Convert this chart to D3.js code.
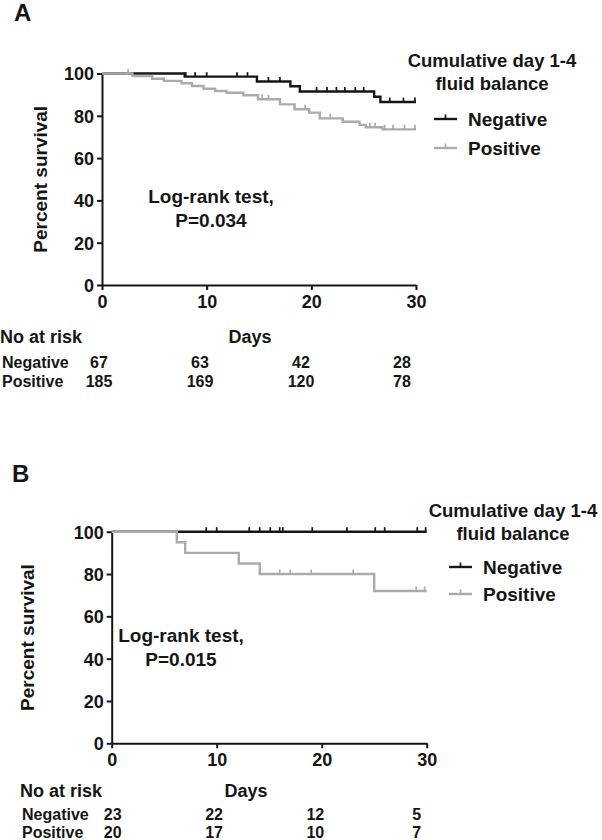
<!DOCTYPE html>
<html>
<head>
<meta charset="utf-8">
<script src="https://cdn.jsdelivr.net/npm/d3@7"></script>
<style>
    body { margin: 0; background: #fff; }
    text { font-family: "Liberation Sans", Arial, sans-serif; font-weight: bold; fill: #151515; }
    .axis path, .axis line { stroke: #151515; stroke-width: 2px; }
</style>
</head>
<body>
<div id="chart"></div>
<script>
// data
var dayTicks = [0, 10, 20, 30];
var survivalTicks = [0, 20, 40, 60, 80, 100];
var groups = ["Negative", "Positive"];

// panel A steps as [day, percent]
var negA = [[0, 100], [7.9, 98.5], [14.8, 96.2], [18.0, 94.0], [18.9, 91.5], [26.0, 89.0], [26.6, 86.5]];
var negACensor = [8.0, 8.9, 10.0, 12.9, 13.9, 15.9, 17.0, 20.5, 21.5, 22.4, 23.2, 24.2, 25.0, 27.5, 28.8, 29.9];
var posA = [[0, 100], [2.9, 98.8], [4.8, 97.5], [5.9, 96.5], [7.6, 95.4], [8.6, 94.1], [9.7, 92.8], [10.8, 91.7],
    [11.9, 90.9], [13.5, 89.7], [14.9, 87.8], [17.0, 85.4], [18.4, 83.1], [19.8, 81.5], [20.8, 78.8],
    [23.0, 77.2], [24.6, 75.7], [25.2, 74.6], [26.8, 73.6]];
var posACensor = [2.5, 15.3, 15.9, 18.4, 19.4, 21.8, 25.6, 26.1, 27.0, 27.8, 28.9, 29.9];
var riskNegA = [67, 63, 42, 28];
var riskPosA = [185, 169, 120, 78];

// panel B steps
var negB = [[0, 100]];
var negBCensor = [9.0, 10.0, 13.1, 14.1, 15.1, 16.0, 16.3, 19.1, 22.4, 25.1, 26.0, 29.1, 29.9];
var posB = [[0, 100], [6.2, 95], [7.0, 90], [12.1, 85], [14.1, 80], [25.0, 72]];
var posBCensor = [16.0, 17.0, 19.0, 23.0, 29.0, 29.8];
var riskNegB = [23, 22, 12, 5];
var riskPosB = [20, 17, 10, 7];

var colors = {Negative: "#151515", Positive: "#ababab"};

var svg = d3.select("#chart").append("svg")
    .attr("width", 602)
    .attr("height", 840);

/**
 * value of a step curve at day t
 */
function levelAt(steps, t) {
    var s = steps[0][1];
    steps.forEach(function (d) {
        if (d[0] <= t) s = d[1];
    });
    return s;
}

/**
 * Draws one Kaplan-Meier panel
 */
function drawPanel(p) {
    var x = d3.scaleLinear().domain([0, 30]).range([p.left, p.right]);
    var y = d3.scaleLinear().domain([0, 100]).range([p.bottom, p.top]);
    var g = svg.append("g");

    g.append("text").attr("x", p.letterX).attr("y", p.letterY)
        .style("font-size", "24px").text(p.letter);

    //axes
    g.append("g").attr("class", "axis")
        .attr("transform", "translate(" + p.left + ",0)")
        .call(d3.axisLeft(y).tickValues(survivalTicks).tickSize(5).tickSizeOuter(0).tickPadding(3))
        .selectAll("text").style("font-size", "18px").attr("dy", "0.36em");
    g.append("g").attr("class", "axis")
        .attr("transform", "translate(0," + p.bottom + ")")
        .call(d3.axisBottom(x).tickValues(dayTicks).tickSize(5).tickSizeOuter(0).tickPadding(4))
        .selectAll("text").style("font-size", "18px").attr("dy", "0.78em");
    g.selectAll(".axis text").style("fill", "#151515");

    g.append("text")
        .attr("transform", "translate(" + p.yLabelX + "," + ((p.top + p.bottom) / 2) + ") rotate(-90)")
        .attr("text-anchor", "middle")
        .style("font-size", "19px")
        .text("Percent survival");

    //curves, black first so grey sits on top
    var line = d3.line().curve(d3.curveStepAfter)
        .x(function (d) { return x(d[0]); })
        .y(function (d) { return y(d[1]); });

    [["Negative", p.neg, p.negCensor], ["Positive", p.pos, p.posCensor]].forEach(function (c) {
        var pts = c[1].concat([[30, c[1][c[1].length - 1][1]]]);
        g.append("path").datum(pts)
            .attr("d", line)
            .attr("fill", "none")
            .attr("stroke", colors[c[0]])
            .attr("stroke-width", 2.4);
        g.selectAll(null).data(c[2]).enter().append("line")
            .attr("x1", function (d) { return x(d); })
            .attr("x2", function (d) { return x(d); })
            .attr("y1", function (d) { return y(levelAt(c[1], d)); })
            .attr("y2", function (d) { return y(levelAt(c[1], d)) - 4.5; })
            .attr("stroke", colors[c[0]])
            .attr("stroke-width", 1.7);
    });

    //test annotation
    g.append("text").attr("x", p.testX).attr("y", p.testY)
        .attr("text-anchor", "middle").style("font-size", "19px").text("Log-rank test,");
    g.append("text").attr("x", p.testX).attr("y", p.testY + 24)
        .attr("text-anchor", "middle").style("font-size", "19px").text(p.pval);

    //legend
    g.append("text").attr("x", p.legX).attr("y", p.legY)
        .attr("text-anchor", "middle").style("font-size", "18.5px").text("Cumulative day 1-4");
    g.append("text").attr("x", p.legX).attr("y", p.legY + 23)
        .attr("text-anchor", "middle").style("font-size", "18.5px").text("fluid balance");
    groups.forEach(function (name, i) {
        var ly = p.legItemY + i * p.legGap;
        g.append("line").attr("x1", p.legLineX).attr("x2", p.legLineX + 23)
            .attr("y1", ly).attr("y2", ly)
            .attr("stroke", colors[name]).attr("stroke-width", 2.4);
        g.append("line").attr("x1", p.legLineX + 11.5).attr("x2", p.legLineX + 11.5)
            .attr("y1", ly).attr("y2", ly - 4.5)
            .attr("stroke", colors[name]).attr("stroke-width", 1.7);
        g.append("text").attr("x", p.legLineX + 34).attr("y", ly + 7)
            .style("font-size", "19px").text(name);
    });

    //numbers at risk
    var rx = d3.scaleLinear().domain([0, 30]).range([x(0) + p.riskOff[0], x(30) + p.riskOff[1]]);
    g.append("text").attr("x", p.riskLabelX).attr("y", p.riskY)
        .style("font-size", "18px").text("No at risk");
    g.append("text").attr("x", p.daysX).attr("y", p.riskY)
        .attr("text-anchor", "middle").style("font-size", "18px").text("Days");
    [[groups[0], p.riskNeg], [groups[1], p.riskPos]].forEach(function (r, i) {
        var ry = p.riskY + p.riskRows[i];
        g.append("text").attr("x", p.riskLabelX + 2).attr("y", ry)
            .style("font-size", "16px").text(r[0]);
        g.selectAll(null).data(r[1]).enter().append("text")
            .attr("x", function (d, j) { return rx(dayTicks[j]); })
            .attr("y", ry)
            .attr("text-anchor", "middle")
            .style("font-size", "16px")
            .text(function (d) { return d; });
    });
}

drawPanel({
    letter: "A", letterX: 14, letterY: 21,
    left: 102, right: 416, top: 73.5, bottom: 285,
    yLabelX: 47,
    neg: negA, negCensor: negACensor, pos: posA, posCensor: posACensor,
    testX: 211, testY: 203, pval: "P=0.034",
    legX: 492, legY: 67, legLineX: 434, legItemY: 119, legGap: 29,
    riskLabelX: 0, riskY: 343, daysX: 250, riskRows: [25, 44], riskOff: [-3, -14],
    riskNeg: riskNegA, riskPos: riskPosA
});

drawPanel({
    letter: "B", letterX: 12, letterY: 482,
    left: 111.7, right: 426.7, top: 531.7, bottom: 743.3,
    yLabelX: 34,
    neg: negB, negCensor: negBCensor, pos: posB, posCensor: posBCensor,
    testX: 181, testY: 642, pval: "P=0.015",
    legX: 513, legY: 517, legLineX: 449, legItemY: 567, legGap: 27,
    riskLabelX: 20, riskY: 797, daysX: 246, riskRows: [23, 41], riskOff: [1, -10],
    riskNeg: riskNegB, riskPos: riskPosB
});
</script>
</body>
</html>
